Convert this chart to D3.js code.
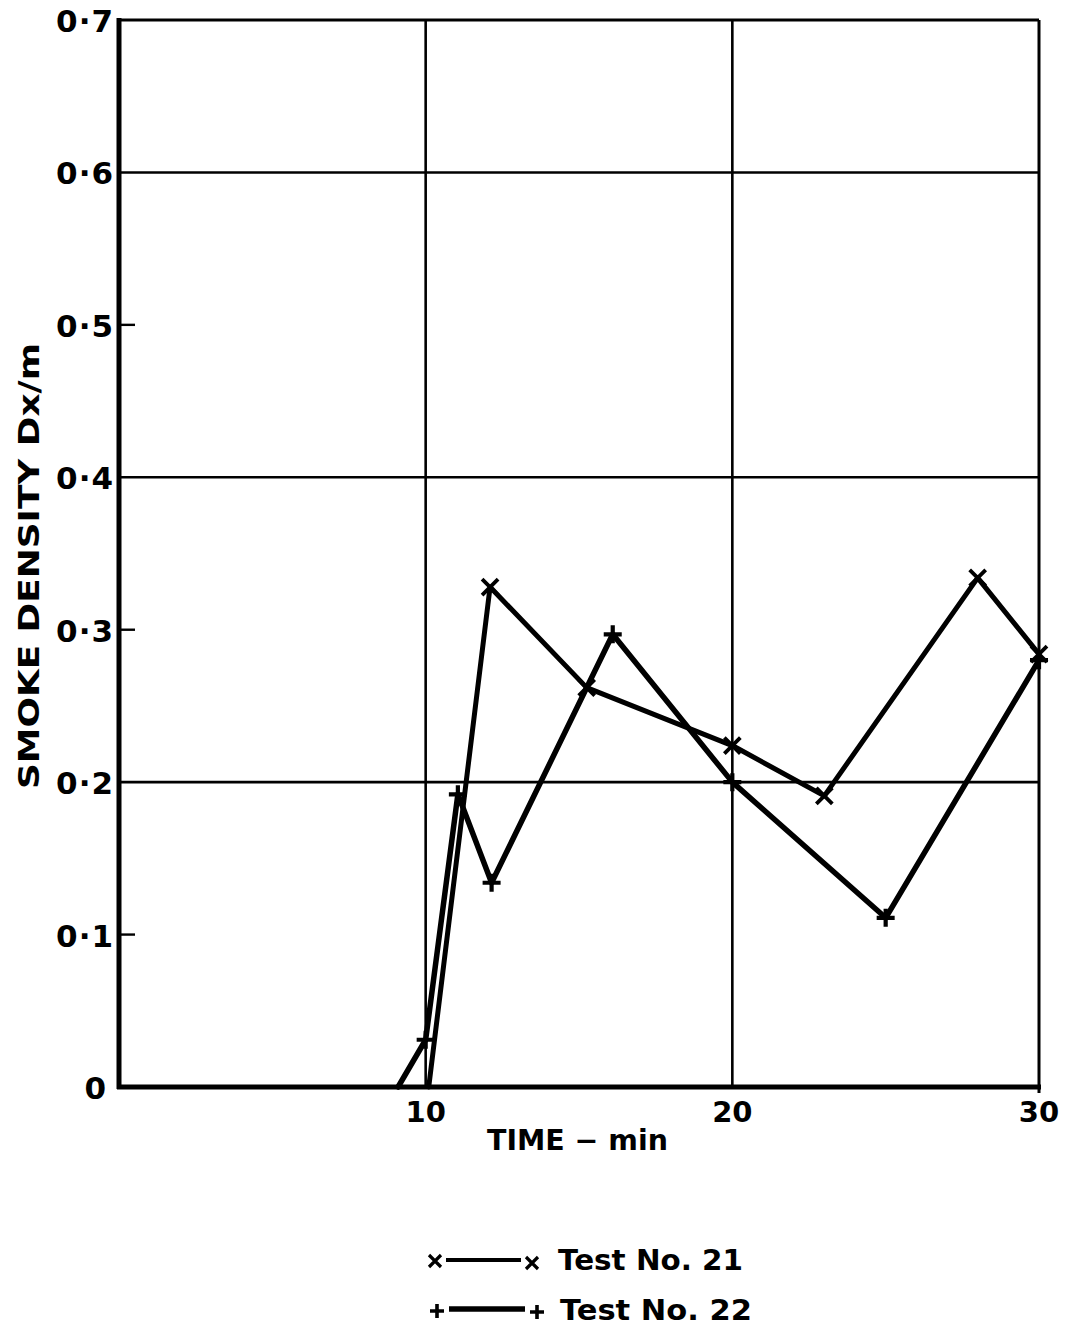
<!DOCTYPE html>
<html>
<head>
<meta charset="utf-8">
<script src="https://cdn.jsdelivr.net/npm/d3@7"></script>
<style>
  html, body { margin: 0; padding: 0; background: #fff; }
  svg text { font-family: "DejaVu Sans", "Liberation Sans", sans-serif; fill: #000; font-weight: bold; }
</style>
</head>
<body>
<svg id="chart" width="1071" height="1329"></svg>
<script>
// Smoke density readings (time in min, density in Dx/m)
const test21 = [
  [10.1, 0], [12.1, 0.328], [15.25, 0.262], [20, 0.224],
  [23, 0.191], [28, 0.334], [30, 0.284]
];
const test22 = [
  [9.1, 0], [10, 0.031], [11.05, 0.192], [12.15, 0.134], [16.1, 0.297],
  [20, 0.2], [25, 0.111], [30, 0.28]
];
// Which points carry a marker (first point of each curve is the start on the axis)
const marked21 = [false, true, true, true, true, true, true];
const marked22 = [false, true, true, true, true, true, true, true];

const xTickLabels = [[10, "10"], [20, "20"], [30, "30"]];
const yTickLabels = [[0, "0"], [0.1, "0·1"], [0.2, "0·2"], [0.3, "0·3"],
                     [0.4, "0·4"], [0.5, "0·5"], [0.6, "0·6"], [0.7, "0·7"]];
const xGrid = [10, 20];
const yGrid = [0.2, 0.4, 0.6];
const yShortTicks = [0.1, 0.3, 0.5];

const svg = d3.select("#chart");
const x = d3.scaleLinear().domain([0, 30]).range([119, 1039]);
const y = d3.scaleLinear().domain([0, 0.7]).range([1087, 20]);

// Grid lines
svg.append("g").selectAll("line").data(xGrid).join("line")
  .attr("x1", d => x(d)).attr("x2", d => x(d))
  .attr("y1", y(0)).attr("y2", y(0.7))
  .attr("stroke", "#000").attr("stroke-width", 2.6);
svg.append("g").selectAll("line").data(yGrid).join("line")
  .attr("x1", x(0)).attr("x2", x(30))
  .attr("y1", d => y(d)).attr("y2", d => y(d))
  .attr("stroke", "#000").attr("stroke-width", 2.6);
svg.append("g").selectAll("line").data(yShortTicks).join("line")
  .attr("x1", x(0)).attr("x2", x(0) + 16)
  .attr("y1", d => y(d)).attr("y2", d => y(d))
  .attr("stroke", "#000").attr("stroke-width", 2.4);

// Frame: top and right edges, then heavier axes
svg.append("line").attr("x1", x(0)).attr("x2", x(30)).attr("y1", y(0.7)).attr("y2", y(0.7))
  .attr("stroke", "#000").attr("stroke-width", 3);
svg.append("line").attr("x1", x(30)).attr("x2", x(30)).attr("y1", y(0.7)).attr("y2", y(0) + 6)
  .attr("stroke", "#000").attr("stroke-width", 3);
svg.append("line").attr("x1", x(0)).attr("x2", x(0)).attr("y1", y(0.7) - 2).attr("y2", y(0) + 2)
  .attr("stroke", "#000").attr("stroke-width", 5);
svg.append("line").attr("x1", x(0) - 2).attr("x2", x(30) + 2).attr("y1", y(0)).attr("y2", y(0))
  .attr("stroke", "#000").attr("stroke-width", 5);

// Tick labels
svg.append("g").selectAll("text").data(yTickLabels).join("text")
  .attr("x", d => d[0] === 0 ? 106 : 114)
  .attr("y", d => y(d[0]) + 12)
  .attr("text-anchor", "end")
  .attr("font-size", 31)
  .attr("letter-spacing", d => d[0] === 0 ? 0 : 1)
  .text(d => d[1]);
svg.append("g").selectAll("text").data(xTickLabels).join("text")
  .attr("x", d => x(d[0]))
  .attr("y", 1122)
  .attr("text-anchor", "middle")
  .attr("font-size", 29)
  .text(d => d[1]);

// Axis titles
svg.append("text")
  .attr("transform", `translate(39, 566) rotate(-90)`)
  .attr("text-anchor", "middle")
  .attr("font-size", 28)
  .attr("textLength", 446).attr("lengthAdjust", "spacingAndGlyphs")
  .text("SMOKE DENSITY  Dx/m");
svg.append("text")
  .attr("x", 487).attr("y", 1150)
  .attr("font-size", 28)
  .attr("textLength", 181).attr("lengthAdjust", "spacingAndGlyphs")
  .text("TIME − min");

// Curves
const line = d3.line().x(d => x(d[0])).y(d => y(d[1]));
svg.append("path").datum(test21).attr("d", line)
  .attr("fill", "none").attr("stroke", "#000").attr("stroke-width", 5)
  .attr("stroke-linejoin", "round").attr("stroke-linecap", "round");
svg.append("path").datum(test22).attr("d", line)
  .attr("fill", "none").attr("stroke", "#000").attr("stroke-width", 5.5)
  .attr("stroke-linejoin", "round").attr("stroke-linecap", "round");

// Markers
function cross(g, cx, cy, s, w) {
  g.append("path")
    .attr("d", `M${cx - s},${cy - s}L${cx + s},${cy + s}M${cx - s},${cy + s}L${cx + s},${cy - s}`)
    .attr("stroke", "#000").attr("stroke-width", w).attr("fill", "none");
}
function plus(g, cx, cy, s, w) {
  g.append("path")
    .attr("d", `M${cx - s},${cy}L${cx + s},${cy}M${cx},${cy - s}L${cx},${cy + s}`)
    .attr("stroke", "#000").attr("stroke-width", w).attr("fill", "none");
}
const mk = svg.append("g");
test21.forEach((d, i) => { if (marked21[i]) cross(mk, x(d[0]), y(d[1]), 8, 3.8); });
test22.forEach((d, i) => { if (marked22[i]) plus(mk, x(d[0]), y(d[1]), 9, 4.2); });

// Legend
const lg = svg.append("g");
cross(lg, 435, 1261, 6, 3.2);
lg.append("line").attr("x1", 446).attr("x2", 521).attr("y1", 1260).attr("y2", 1260)
  .attr("stroke", "#000").attr("stroke-width", 4);
cross(lg, 532, 1263, 6, 3.2);
lg.append("text").attr("x", 558).attr("y", 1270).attr("font-size", 29)
  .attr("textLength", 185).attr("lengthAdjust", "spacingAndGlyphs").text("Test No. 21");
plus(lg, 437, 1311, 7, 3.6);
lg.append("line").attr("x1", 449).attr("x2", 525).attr("y1", 1309).attr("y2", 1309)
  .attr("stroke", "#000").attr("stroke-width", 5.5);
plus(lg, 537, 1312, 7, 3.6);
lg.append("text").attr("x", 560).attr("y", 1320).attr("font-size", 29)
  .attr("textLength", 192).attr("lengthAdjust", "spacingAndGlyphs").text("Test No. 22");
</script>
</body>
</html>
